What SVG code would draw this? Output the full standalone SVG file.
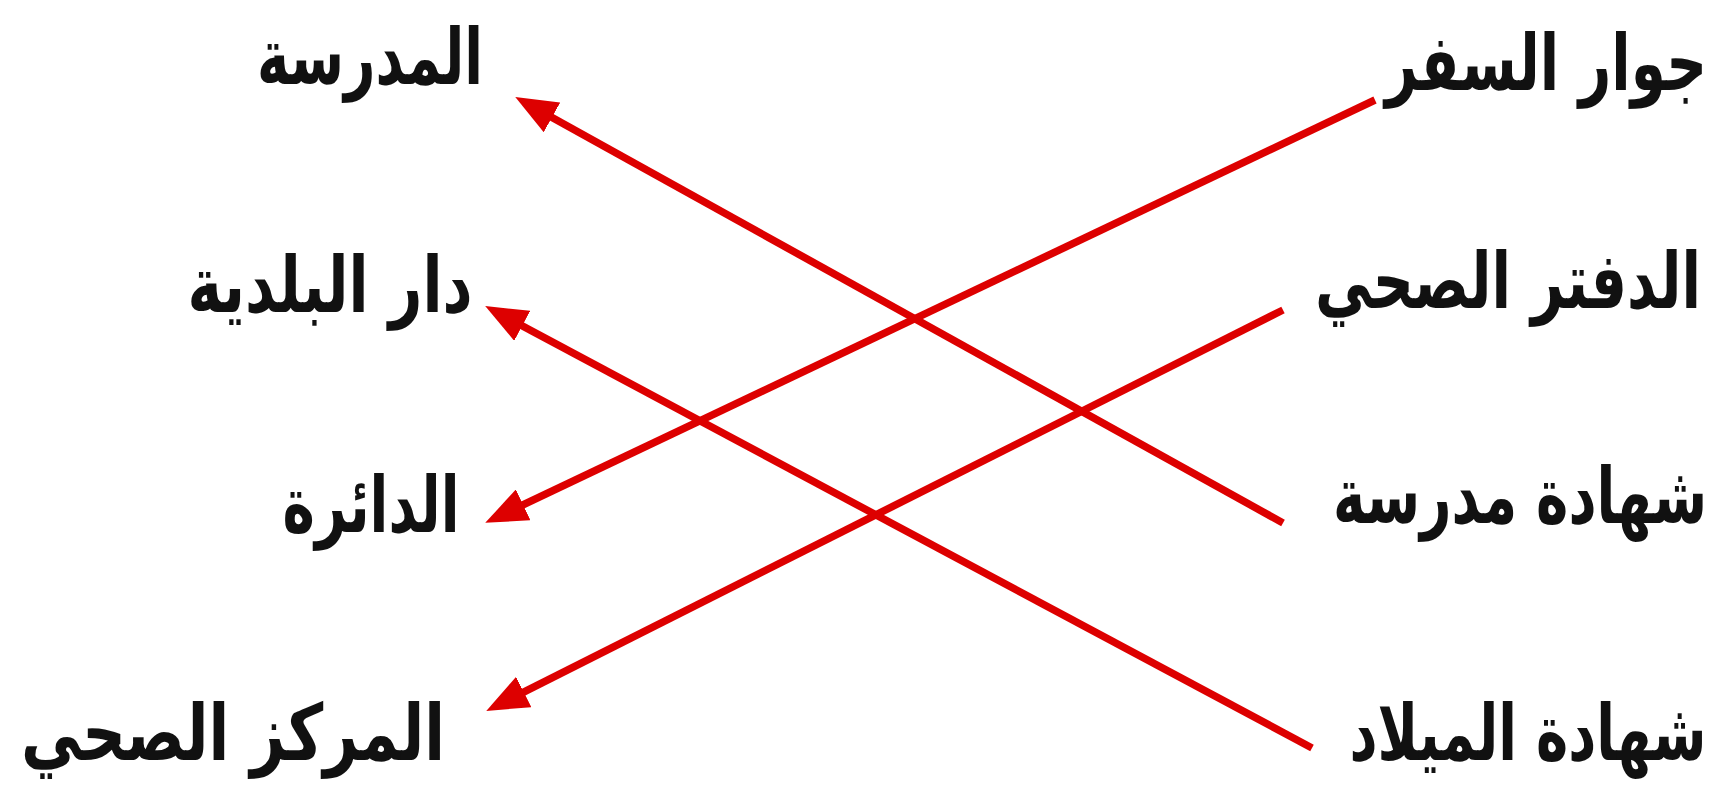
<svg xmlns="http://www.w3.org/2000/svg" width="1723" height="799" viewBox="0 0 1723 799">
<style>
.lbl{font-family:"DejaVu Sans","Noto Sans",sans-serif;font-size:78px;font-weight:bold;fill:#111;text-anchor:middle}
.con{stroke:#dd0000;stroke-width:7.5;fill:none}
</style>
<defs>
<marker id="ah" markerUnits="userSpaceOnUse" viewBox="0 0 42 34" markerWidth="42" markerHeight="34" refX="20" refY="17" orient="auto">
<path d="M0,0 L42,17 L0,34 z" fill="#dd0000"/>
</marker>
</defs>
<rect width="1723" height="799" fill="#fff"/>
<g id="n-madrasa"><text class="lbl" x="370" y="84" textLength="226" lengthAdjust="spacingAndGlyphs">المدرسة</text></g>
<g id="n-baladiya"><text class="lbl" x="330" y="312" textLength="285" lengthAdjust="spacingAndGlyphs">دار البلدية</text></g>
<g id="n-daira"><text class="lbl" x="371" y="532" textLength="177" lengthAdjust="spacingAndGlyphs">الدائرة</text></g>
<g id="n-markaz"><text class="lbl" x="233" y="760" textLength="424" lengthAdjust="spacingAndGlyphs">المركز الصحي</text></g>
<g id="n-jawaz"><text class="lbl" x="1546" y="90" textLength="322" lengthAdjust="spacingAndGlyphs">جوار السفر</text></g>
<g id="n-daftar"><text class="lbl" x="1508" y="308" textLength="386" lengthAdjust="spacingAndGlyphs">الدفتر الصحي</text></g>
<g id="n-shahada-madrasa"><text class="lbl" x="1520" y="523" textLength="374" lengthAdjust="spacingAndGlyphs">شهادة مدرسة</text></g>
<g id="n-milad"><text class="lbl" x="1528" y="760" textLength="357" lengthAdjust="spacingAndGlyphs">شهادة الميلاد</text></g>
<g id="connectors">
<path class="con" marker-end="url(#ah)" d="M1283,523 L534.5,107.7"/>
<path class="con" marker-end="url(#ah)" d="M1375,100 L505.1,513.4"/>
<path class="con" marker-end="url(#ah)" d="M1283,310 L505.9,701"/>
<path class="con" marker-end="url(#ah)" d="M1312,748 L504.6,316.4"/>
</g>
</svg>
